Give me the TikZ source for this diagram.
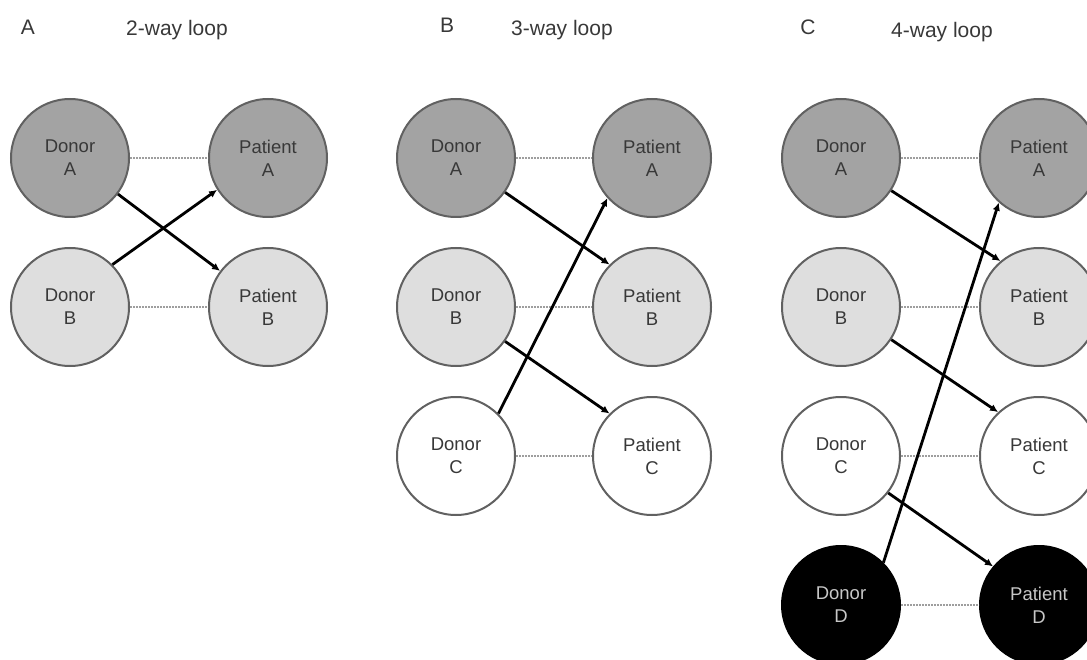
\documentclass[tikz,border=0pt]{standalone}
\usepackage{fontspec}
\setmainfont{Liberation Sans}
\usetikzlibrary{arrows.meta}
\begin{document}
\begin{tikzpicture}[x=1pt,y=-1pt,
 person/.style={circle,minimum size=118pt,inner sep=0pt,draw=black!62,line width=2pt,align=center,font=\fontsize{18.5}{23}\selectfont,text=black!78},
 rowA/.style={person,fill=black!36},
 rowB/.style={person,fill=black!13},
 rowC/.style={person,fill=white},
 rowD/.style={person,fill=black,draw=black,text=black!22},
 link/.style={draw=black!38,line width=2.6pt,dash pattern=on 2pt off 1pt},
 give/.style={draw=black,line width=2.8pt,-{Latex[length=8pt,width=7.5pt]}},
 title/.style={font=\fontsize{21}{25}\selectfont,text=black!78}]
\useasboundingbox (0,0) rectangle (1087,660);
% titles
\node[title] (la) at (28,27) {A};
\node[title] (ta) at (177,30) {2-way loop};
\node[title] (lb) at (447,25) {B};
\node[title] (tb) at (562,30) {3-way loop};
\node[title] (lc) at (808,27) {C};
\node[title] (tc) at (942,32) {4-way loop};
% panel A
\node[rowA] (ada) at (70,158) {Donor\\A};
\node[rowA] (apa) at (268,158) {Patient\\A};
\node[rowB] (adb) at (70,307) {Donor\\B};
\node[rowB] (apb) at (268,307) {Patient\\B};
% panel B
\node[rowA] (bda) at (456,158) {Donor\\A};
\node[rowA] (bpa) at (652,158) {Patient\\A};
\node[rowB] (bdb) at (456,307) {Donor\\B};
\node[rowB] (bpb) at (652,307) {Patient\\B};
\node[rowC] (bdc) at (456,456) {Donor\\C};
\node[rowC] (bpc) at (652,456) {Patient\\C};
% panel C
\node[rowA] (cda) at (841,158) {Donor\\A};
\node[rowA] (cpa) at (1039,158) {Patient\\A};
\node[rowB] (cdb) at (841,307) {Donor\\B};
\node[rowB] (cpb) at (1039,307) {Patient\\B};
\node[rowC] (cdc) at (841,456) {Donor\\C};
\node[rowC] (cpc) at (1039,456) {Patient\\C};
\node[rowD] (cdd) at (841,605) {Donor\\D};
\node[rowD] (cpd) at (1039,605) {Patient\\D};
% dashed pair links
\draw[link] (ada) -- (apa);
\draw[link] (adb) -- (apb);
\draw[link] (bda) -- (bpa);
\draw[link] (bdb) -- (bpb);
\draw[link] (bdc) -- (bpc);
\draw[link] (cda) -- (cpa);
\draw[link] (cdb) -- (cpb);
\draw[link] (cdc) -- (cpc);
\draw[link] (cdd) -- (cpd);
% donation arrows
\draw[give] (ada) -- (apb);
\draw[give] (adb.45) -- (apa.212);
\draw[give] (bda.-35) -- (bpb.135);
\draw[give] (bdb.-35) -- (bpc.135);
\draw[give] (bdc.45) -- (bpa.222);
\draw[give] (cda.-33) -- (cpb.130);
\draw[give] (cdb.-33) -- (cpc.133);
\draw[give] (cdc.-38) -- (cpd.140);
\draw[give] (cdd.45) -- (cpa.228);
\end{tikzpicture}
\end{document}
